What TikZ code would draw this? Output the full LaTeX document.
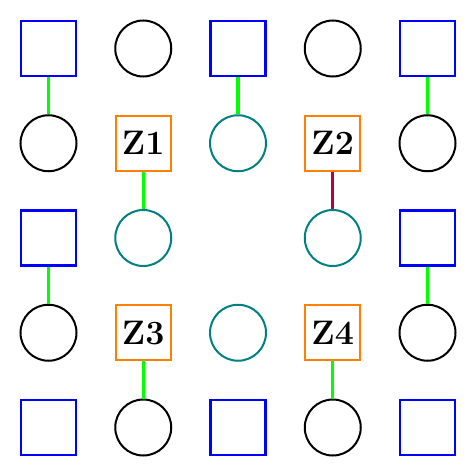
\documentclass[tikz,border=0pt]{standalone}
\usepackage{fontspec}
\begin{document}
\begin{tikzpicture}[x=1pt,y=-1pt,
  sq/.style={draw=blue,line width=2.3pt,minimum size=55pt,inner sep=0pt},
  zb/.style={draw=orange,line width=2.3pt,minimum size=55pt,inner sep=0pt,font=\fontsize{34}{40}\selectfont\bfseries},
  bc/.style={circle,draw=black,line width=2pt,minimum size=56pt,inner sep=0pt},
  tc/.style={circle,draw=teal,line width=2pt,minimum size=56pt,inner sep=0pt},
  gl/.style={draw=green,line width=3.2pt},
  pl/.style={draw=purple,line width=3.2pt}]
\useasboundingbox (0,0) rectangle (476,476);
\def\xa{48.5}\def\xb{143.25}\def\xc{238}\def\xd{332.75}\def\xe{427.5}
% row 0
\node[sq] (s00) at (\xa,\xa) {};
\node[bc] (c01) at (\xb,\xa) {};
\node[sq] (s02) at (\xc,\xa) {};
\node[bc] (c03) at (\xd,\xa) {};
\node[sq] (s04) at (\xe,\xa) {};
% row 1
\node[bc] (c10) at (\xa,\xb) {};
\node[zb] (z1) at (\xb,\xb) {Z1};
\node[tc] (t12) at (\xc,\xb) {};
\node[zb] (z2) at (\xd,\xb) {Z2};
\node[bc] (c14) at (\xe,\xb) {};
% row 2
\node[sq] (s20) at (\xa,\xc) {};
\node[tc] (t21) at (\xb,\xc) {};
\node[tc] (t23) at (\xd,\xc) {};
\node[sq] (s24) at (\xe,\xc) {};
% row 3
\node[bc] (c30) at (\xa,\xd) {};
\node[zb] (z3) at (\xb,\xd) {Z3};
\node[tc] (t32) at (\xc,\xd) {};
\node[zb] (z4) at (\xd,\xd) {Z4};
\node[bc] (c34) at (\xe,\xd) {};
% row 4
\node[sq] (s40) at (\xa,\xe) {};
\node[bc] (c41) at (\xb,\xe) {};
\node[sq] (s42) at (\xc,\xe) {};
\node[bc] (c43) at (\xd,\xe) {};
\node[sq] (s44) at (\xe,\xe) {};
% connectors
\draw[gl] (s00) -- (c10);
\draw[gl] (s02) -- (t12);
\draw[gl] (s04) -- (c14);
\draw[gl] (z1) -- (t21);
\draw[pl] (z2) -- (t23);
\draw[gl] (s20) -- (c30);
\draw[gl] (s24) -- (c34);
\draw[gl] (z3) -- (c41);
\draw[gl] (z4) -- (c43);
\end{tikzpicture}
\end{document}
